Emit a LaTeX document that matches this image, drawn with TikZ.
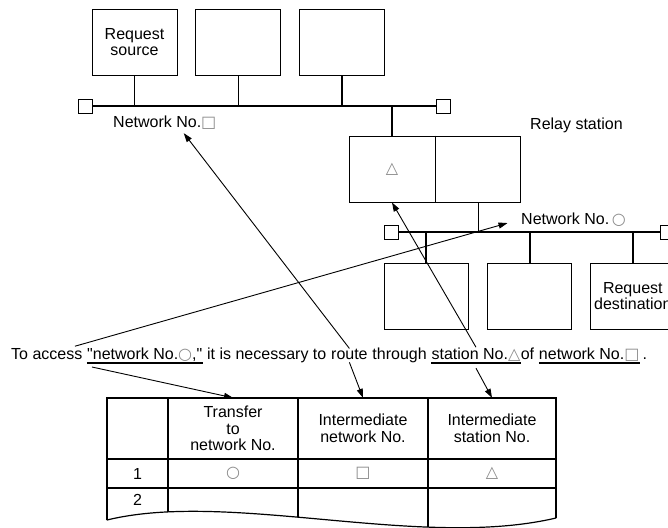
\documentclass[tikz,border=0pt]{standalone}
\usepackage{fontspec}
\setmainfont{Liberation Sans}
\newfontfamily\symfont{DejaVu Sans}
\usetikzlibrary{calc,positioning,arrows.meta}
\definecolor{SymGray}{HTML}{8A8A8A}
\newcommand\lbl{\fontsize{16}{16.5}\selectfont}
\newcommand\sqmark{{\symfont\color{SymGray}□}}
\newcommand\cimark{{\symfont\color{SymGray}○}}
\newcommand\trmark{{\symfont\color{SymGray}△}}
\tikzset{
  stn/.style={draw, line width=0.9pt, minimum width=85pt, minimum height=66pt, align=center,
              inner sep=0pt, font=\lbl},
  term/.style={draw, line width=0.9pt, fill=white, minimum width=14pt, minimum height=14pt, inner sep=0pt},
  bus/.style={line width=1.8pt},
  txt/.style={inner sep=0pt, font=\lbl},
  cell/.style={inner sep=0pt, align=center, font=\lbl},
  grid/.style={line width=1.8pt, line cap=rect},
  wave/.style={line width=1.2pt},
  uline/.style={line width=1.4pt},
  ptr/.style={line width=0.9pt, -{Triangle[length=9pt,width=6pt]}},
}

\begin{document}
\begin{tikzpicture}[x=1pt, y=-1pt]
    \useasboundingbox (0,0) rectangle (668,527);
    % network of the request source
    \node[stn] (src) at (134.5,42) {Request\\source};
    \node[stn, right=18pt of src] (stnB) {};
    \node[stn, right=18pt of stnB] (stnC) {};
    \node[term] (termAL) at (85,106) {};
    \node[term] (termAR) at (443,106) {};
    \draw[bus] (termAL) -- (termAR);
    \foreach \s in {src,stnB,stnC} \draw[bus] (\s) -- (\s |- termAL);
    \node[txt, anchor=base west] (netA) at (113,127) {Network No.\sqmark};
    % relay station
    \node[stn, minimum width=86pt] (relL) at (392,169) {\trmark};
    \node[stn, right=0pt of relL] (relR) {};
    \draw[bus, line width=1.4pt] (relL.north east) -- (relL.south east);
    \draw[bus] (relL.north) -- (relL.north |- termAL);
    \node[txt, anchor=base west] (relLbl) at (530,129) {Relay station};
    % network of the request destination
    \node[term] (termBL) at (391,232) {};
    \node[term] (termBR) at (667,232) {};
    \draw[bus] (termBL) -- (termBR);
    \draw[bus] (relR) -- (relR |- termBL);
    \node[stn, minimum width=84pt] (dstA) at (426,296) {};
    \node[stn, minimum width=84pt, right=19pt of dstA] (dstB) {};
    \node[stn, minimum width=84pt, right=18pt of dstB] (dst) {Request\\destination};
    \foreach \s in {dstA,dstB,dst} \draw[bus] (\s) -- (\s |- termBL);
    \node[txt, anchor=base west] (netB) at (521,224) {Network No.\,\cimark};
    % sentence
    \node[txt, anchor=base west] (s1) at (11,359) {To access\ \null};
    \node[txt, base right=0pt of s1] (netref) {\textquotedbl network No.\cimark,\textquotedbl};
    \node[txt, base right=0pt of netref] (s2) {\ it is necessary to\ \null};
    \node[txt, base right=0pt of s2] (route) {route};
    \node[txt, base right=0pt of route] (s3) {\ through\ \null};
    \node[txt, base right=0pt of s3] (staref) {station No.\trmark};
    \node[txt, base right=0pt of staref] (s4) {of\ \null};
    \node[txt, base right=0pt of s4] (sqref) {network No.\sqmark};
    \node[txt, base right=0pt of sqref] (s5) {\,.};
    \foreach \u in {netref,staref,sqref}
      \draw[uline] ($(\u.base west)+(0,4)$) -- ($(\u.base east)+(0,4)$);
    % routing table
    \node[cell, minimum width=61pt, minimum height=61pt] (hd0) at (137.5,428.5) {};
    \node[cell, minimum width=130pt, minimum height=61pt] (hd1) at (233,428.5) {Transfer\\to\\network No.};
    \node[cell, minimum width=130pt, minimum height=61pt] (hd2) at (363,428.5) {Intermediate\\network No.};
    \node[cell, minimum width=128pt, minimum height=61pt] (hd3) at (492,428.5) {Intermediate\\station No.};
    \node[cell, minimum width=61pt, minimum height=29pt] (r0) at (137.5,473.5) {1};
    \node[cell, minimum width=130pt, minimum height=29pt] (r1) at (233,473.5) {\cimark};
    \node[cell, minimum width=130pt, minimum height=29pt] (r2) at (363,473.5) {\sqmark};
    \node[cell, minimum width=128pt, minimum height=29pt] (r3) at (492,473.5) {\trmark};
    \node[cell] (r20) at (137.5,500) {2};
    \draw[grid] (hd0.north west) -- (hd3.north east);
    \draw[grid] (hd0.south west) -- (hd3.south east);
    \draw[grid] (r0.south west) -- (r3.south east);
    \begin{scope}
      \clip (98,390) -- (98,520) -- (107,520) .. controls (230,490) and (420,550) .. (556,518)
        -- (570,518) -- (570,390) -- cycle;
      \foreach \c in {hd0.north west,hd1.north west,hd2.north west,hd3.north west,hd3.north east}
        \draw[grid] (\c) -- ++(0,150);
    \end{scope}
    \draw[wave] (107,520) .. controls (230,490) and (420,550) .. (556,518);
    % pointers
    \draw[ptr, shorten >=14pt] ($(netref.north west)+(-12,-1)$) -- (netB.west);
    \draw[ptr] ($(netref.base west)+(5,8)$) -- (hd1.north);
    \draw[ptr] (route.north) -- ($(netA.south)+(19,4)$);
    \draw[ptr] ($(route.south)+(0,3)$) -- (hd2.north);
    \draw[ptr] (staref.north) -- (relL.south);
    \draw[ptr] ($(staref.south)+(0,7)$) -- (hd3.north);
  \end{tikzpicture}
\end{document}
